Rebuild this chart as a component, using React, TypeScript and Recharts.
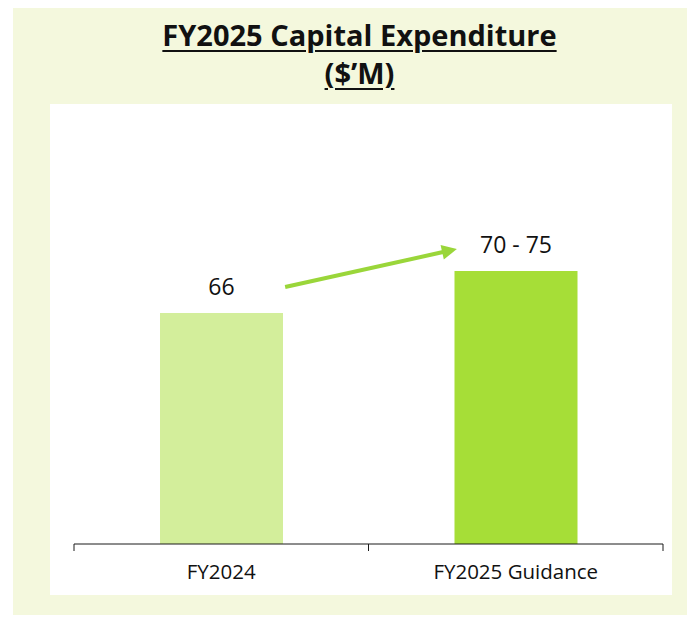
import { BarChart, Bar, XAxis, YAxis, Cell, LabelList, ReferenceLine } from "recharts";

const categories = ["FY2024", "FY2025 Guidance"];
const barValues = [66, 78];
const valueLabels = ["66", "70 - 75"];
const barColors = ["#d3ee9b", "#a6de37"];
const arrowFrom = 69.4;
const arrowTo = 88;

const data = categories.map((name, i) => ({ name, value: barValues[i], label: valueLabels[i] }));

const font = "'Open Sans', sans-serif";
const green = "#9ad63a";
const axisColor = "#1a1a1a";

function ArrowShape(props: any) {
  const { x1, y1, x2, y2 } = props;
  const t0 = 0.217, t1 = 0.8;
  const sx = x1 + (x2 - x1) * t0, sy = y1 + (y2 - y1) * t0;
  const ex = x1 + (x2 - x1) * t1, ey = y1 + (y2 - y1) * t1;
  const len = Math.hypot(ex - sx, ey - sy);
  const ux = (ex - sx) / len, uy = (ey - sy) / len;
  const hl = 15, hw = 7.5;
  const bx = ex - ux * hl, by = ey - uy * hl;
  const pts = `${ex},${ey} ${bx - uy * hw},${by + ux * hw} ${bx + uy * hw},${by - ux * hw}`;
  return (
    <g>
      <line x1={sx} y1={sy} x2={bx + ux * 2} y2={by + uy * 2} stroke={green} strokeWidth={4} />
      <polygon points={pts} fill={green} />
    </g>
  );
}

// category label plus tick marks on the band edges
function BandTick({ x, y, width, index, payload }: any) {
  const half = width / categories.length / 2;
  const ay = y - 7;
  const last = index === categories.length - 1;
  return (
    <g>
      <line x1={x - half} x2={x - half} y1={ay} y2={ay + 7} stroke={axisColor} />
      {last && <line x1={x + half} x2={x + half} y1={ay} y2={ay + 7} stroke={axisColor} />}
      <text x={x} y={ay + 20} dy="0.71em" textAnchor="middle" fontFamily={font} fontSize={20.5} fill="#111">
        {payload.value}
      </text>
    </g>
  );
}

export default function App() {
  return (
    <div style={{ position: "relative", width: 695, height: 623, margin: -8, background: "#fff" }}>
      <div style={{ position: "absolute", left: 13, top: 8, width: 677, height: 614, background: "#f4f8dd" }} />
      <div
        style={{
          position: "absolute", left: 0, top: 16, width: 719, textAlign: "center",
          fontFamily: font, fontWeight: 700, fontSize: 29, lineHeight: "38px", color: "#111",
          textDecoration: "underline", textUnderlineOffset: 4, textDecorationThickness: 2,
        }}
      >
        <div>FY2025 Capital Expenditure</div>
        <div>($’M)</div>
      </div>
      <div style={{ position: "absolute", left: 50, top: 104, width: 622, height: 491, background: "#fff" }}>
        <BarChart width={622} height={491} data={data} margin={{ top: 90, right: 9, left: 24, bottom: 21 }}>
          <XAxis
            dataKey="name" height={30} interval={0} tickSize={7} tickMargin={0} tickLine={false}
            axisLine={{ stroke: axisColor, strokeWidth: 1 }} tick={<BandTick />}
          />
          <YAxis hide domain={[0, 100]} />
          <Bar dataKey="value" barSize={123} isAnimationActive={false}>
            {data.map((d, i) => (
              <Cell key={d.name} fill={barColors[i]} />
            ))}
            <LabelList dataKey="label" position="top" offset={18} fill="#111" fontSize={23} fontFamily={font} />
          </Bar>
          <ReferenceLine
            segment={[{ x: categories[0], y: arrowFrom }, { x: categories[1], y: arrowTo }]}
            shape={ArrowShape}
          />
        </BarChart>
      </div>
    </div>
  );
}
